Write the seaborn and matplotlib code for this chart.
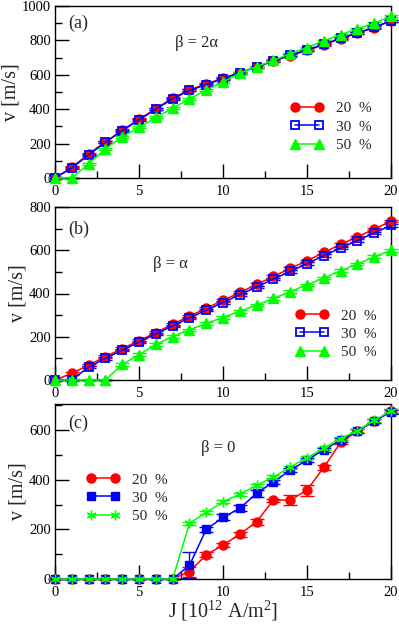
import numpy as np
import pandas as pd
import matplotlib
matplotlib.use('Agg')
import matplotlib.pyplot as plt
from matplotlib.ticker import MultipleLocator
import seaborn as sns

sns.set_theme(style='ticks')
plt.rcParams['font.family'] = ['Liberation Serif', 'DejaVu Serif']
plt.rcParams['mathtext.fontset'] = 'custom'
plt.rcParams['mathtext.rm'] = 'Liberation Serif'
plt.rcParams['mathtext.it'] = 'Liberation Serif:italic'

## 전류 밀도 J (10^12 A/m^2)
J = np.arange(0, 21)

## (a) beta = 2 alpha
a_20 = [0, 62, 140, 210, 278, 342, 403, 465, 512, 547, 580, 612, 645, 680, 712, 742, 775, 810, 842, 875, 912]
a_30 = [0, 58, 135, 207, 275, 338, 400, 460, 509, 543, 578, 613, 646, 681, 714, 745, 778, 812, 843, 876, 915]
a_50 = [0, 0, 82, 170, 239, 294, 352, 406, 460, 511, 559, 609, 648, 684, 723, 758, 798, 833, 868, 900, 941]

## (b) beta = alpha
b_20 = [0, 31, 69, 108, 145, 182, 219, 258, 295, 332, 368, 405, 442, 479, 516, 551, 590, 627, 662, 698, 735]
b_30 = [0, 0, 60, 100, 138, 175, 213, 250, 287, 323, 358, 395, 430, 467, 502, 538, 575, 610, 645, 680, 715]
b_50 = [0, 0, 0, 0, 72, 117, 165, 201, 232, 262, 289, 318, 346, 377, 409, 440, 471, 505, 536, 570, 599]

## (c) beta = 0
c_20 = [0, 0, 0, 0, 0, 0, 0, 0, 30, 97, 137, 180, 231, 318, 318, 358, 450, 550, 597, 636, 676]
c_30 = [0, 0, 0, 0, 0, 0, 0, 0, 55, 200, 248, 285, 345, 391, 438, 479, 521, 559, 595, 636, 674]
c_50 = [0, 0, 0, 0, 0, 0, 0, 0, 224, 268, 311, 342, 377, 411, 451, 489, 526, 566, 598, 639, 678]

## 오차 막대 (대략값)
err_ab = [6] * 21
c_20_err = [0, 0, 0, 0, 0, 0, 0, 0, 20, 10, 10, 10, 12, 6, 20, 22, 10, 8, 8, 8, 8]
c_30_err = [0, 0, 0, 0, 0, 0, 0, 0, 52, 10, 12, 12, 14, 8, 8, 8, 8, 8, 8, 8, 8]
c_50_err = [0, 0, 0, 0, 0, 0, 0, 0, 6, 6, 6, 6, 6, 6, 6, 6, 6, 6, 6, 6, 6]

labels = ['20  %', '30  %', '50  %']
RED, BLUE, GREEN = '#ff0000', '#0000ff', '#00ff00'

fig = plt.figure(figsize=(3.99, 6.25), dpi=100)
axes = [fig.add_axes([0.138, 0.7152, 0.842, 0.2752]),
        fig.add_axes([0.138, 0.392, 0.842, 0.2768]),
        fig.add_axes([0.138, 0.0736, 0.842, 0.280])]

asterisk = (6, 2, 0)
styles = {
    'a': [(RED, 'o', RED, 6.5), (BLUE, 's', 'none', 6), (GREEN, '^', GREEN, 7)],
    'b': [(RED, 'o', RED, 6.5), (BLUE, 's', 'none', 6), (GREEN, '^', GREEN, 7)],
    'c': [(RED, 'o', RED, 6.5), (BLUE, 's', BLUE, 6), (GREEN, asterisk, GREEN, 7)],
}
series = {
    'a': [(a_20, err_ab), (a_30, err_ab), (a_50, err_ab)],
    'b': [(b_20, err_ab), (b_30, err_ab), (b_50, err_ab)],
    'c': [(c_20, c_20_err), (c_30, c_30_err), (c_50, c_50_err)],
}
ylims = {'a': (0, 1000), 'b': (0, 800), 'c': (0, 705)}
betas = {'a': 'β = 2α', 'b': 'β = α', 'c': 'β = 0'}
beta_pos = {'a': (0.42, 0.785), 'b': (0.342, 0.67), 'c': (0.485, 0.75)}
tag_y = {'a': 0.90, 'b': 0.873, 'c': 0.89}
leg_pos = {'a': (0.70, 0.297), 'b': (0.714, 0.266), 'c': (0.092, 0.463)}

for ax, key in zip(axes, ['a', 'b', 'c']):
    for (vals, err), (col, mk, mfc, ms), lab in zip(series[key], styles[key], labels):
        df = pd.DataFrame({'J': J, 'v': vals})
        ax.errorbar(df['J'], df['v'], yerr=err, fmt='none', ecolor=col,
                    elinewidth=1, capsize=5, capthick=1, zorder=2, clip_on=False)
        sns.lineplot(data=df, x='J', y='v', ax=ax, color=col, marker=mk,
                     markersize=ms, markerfacecolor=mfc, markeredgecolor=col,
                     markeredgewidth=1.3 if mfc == 'none' else 1.0,
                     linewidth=1.1, label=lab, zorder=3, clip_on=False)
    ax.set_xlim(0, 20)
    ax.set_ylim(*ylims[key])
    ax.xaxis.set_major_locator(MultipleLocator(5))
    ax.xaxis.set_minor_locator(MultipleLocator(2.5))
    ax.yaxis.set_major_locator(MultipleLocator(200))
    ax.yaxis.set_minor_locator(MultipleLocator(100))
    ax.tick_params(which='both', direction='in', top=False, right=False,
                   labelsize=10.5, colors='black', pad=3)
    ax.tick_params(axis='x', pad=5)
    ax.tick_params(which='major', length=10, width=1)
    ax.tick_params(which='minor', length=5, width=1)
    for sp in ax.spines.values():
        sp.set_visible(True)
        sp.set_color('black')
        sp.set_linewidth(1)
    ax.set_ylabel('v [m/s]', fontsize=14.5, labelpad=1)
    ax.set_xlabel('')
    ax.text(0.04, tag_y[key], '(%s)' % key, transform=ax.transAxes,
            fontsize=13, va='center', ha='left')
    ax.text(beta_pos[key][0], beta_pos[key][1], betas[key], transform=ax.transAxes,
            fontsize=12, va='center', ha='center')
    ax.legend(loc='center left', bbox_to_anchor=leg_pos[key], frameon=False,
              numpoints=2, fontsize=11, handlelength=2.2, handletextpad=0.8,
              labelspacing=0.3, borderpad=0, borderaxespad=0)
    ax.grid(False)
    ax.set_facecolor('white')

axes[2].set_xlabel(r'J [10$^{12}$ A/m$^{2}$]', fontsize=14.5, labelpad=0)

fig.savefig('out.png', dpi=100, facecolor='white')
